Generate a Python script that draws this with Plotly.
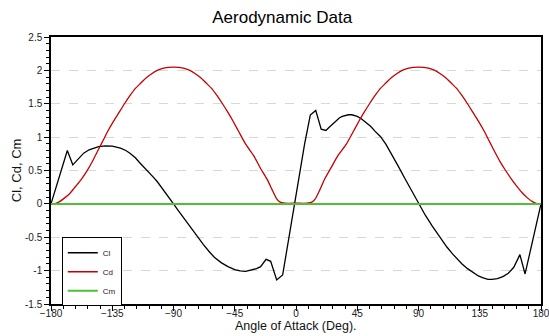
import plotly.graph_objects as go

# Angle of attack (deg) and coefficients
cl_alpha = [-180, -168, -164, -160, -156, -152, -149, -145, -140, -135, -129, -125, -122, -118, -115, -111, -108,
            -105, -102, -99, -96, -93, -90, -87, -84, -80, -76, -72, -68, -64, -60, -55, -50, -45, -41, -37,
            -33, -29, -26, -22, -18.6, -14.2, -9.8, -1, 6.3, 10.5, 14.5, 18.5,
            22, 24, 26, 28, 30, 32, 34, 36, 38.5, 41, 43, 45, 48, 51, 55, 58, 62, 66, 70, 75, 80, 85, 90,
            95, 100, 104, 107, 111, 115, 118, 122, 126, 130, 134, 137, 141, 144, 148, 152, 156, 160, 164.5, 168.3, 180]
cl_values = [0, 0.80, 0.585, 0.68, 0.76, 0.81, 0.835, 0.858, 0.87, 0.865, 0.835, 0.80, 0.76, 0.69, 0.62, 0.54, 0.47,
             0.405, 0.335, 0.255, 0.17, 0.085, 0, -0.085, -0.17, -0.29, -0.40, -0.51, -0.61, -0.71, -0.80, -0.88, -0.94, -0.985, -1.005, -1.01,
             -0.995, -0.97, -0.94, -0.83, -0.86, -1.14, -1.065, 0, 0.895, 1.33, 1.40, 1.12,
             1.10, 1.14, 1.18, 1.225, 1.26, 1.29, 1.31, 1.325, 1.335, 1.335, 1.325, 1.31, 1.275, 1.23, 1.16, 1.09, 1.01, 0.895, 0.76, 0.57, 0.38, 0.19, 0,
             -0.17, -0.33, -0.45, -0.54, -0.65, -0.75, -0.82, -0.90, -0.97, -1.03, -1.08, -1.105, -1.13, -1.13, -1.12, -1.09, -1.04, -0.95, -0.76, -1.05, 0]

cd_alpha = [-180, -177, -174, -170, -166, -162, -158, -154, -150, -146, -142, -138, -134, -130, -126, -122, -118,
            -114, -110, -106, -102, -98, -94, -90, -86, -82, -78, -74, -70, -66, -62, -58, -54, -50, -46, -42,
            -37, -31, -26, -21, -17.5, -14, -12, -8, 0, 8, 12, 14, 17.5, 21, 26, 31, 37,
            42, 46, 50, 54, 58, 62, 66, 70, 74, 78, 82, 86, 90, 94, 98, 102, 106, 110, 114, 118, 122,
            126, 130, 134, 138, 142, 146, 150, 154, 158, 162, 166, 170, 174, 177, 180]
cd_values = [0, 0.005, 0.03, 0.09, 0.16, 0.26, 0.36, 0.48, 0.62, 0.78, 0.94, 1.10, 1.24, 1.37, 1.50, 1.62, 1.73,
             1.81, 1.89, 1.95, 2.00, 2.03, 2.045, 2.05, 2.045, 2.03, 2.00, 1.95, 1.89, 1.81, 1.73, 1.62, 1.50, 1.37, 1.23, 1.08,
             0.895, 0.72, 0.53, 0.36, 0.21, 0.07, 0.03, 0.01, 0.01, 0.01, 0.03, 0.07, 0.21, 0.37, 0.55, 0.73, 0.895,
             1.08, 1.23, 1.37, 1.50, 1.62, 1.73, 1.81, 1.89, 1.95, 2.00, 2.03, 2.045, 2.05, 2.045, 2.03, 2.00, 1.95, 1.89, 1.81, 1.73, 1.62,
             1.50, 1.37, 1.24, 1.10, 0.94, 0.78, 0.63, 0.50, 0.38, 0.27, 0.17, 0.09, 0.03, 0.005, 0]

cm_alpha = [-180, 180]
cm_values = [0, 0]

x_ticks = [-180, -135, -90, -45, 0, 45, 90, 135, 180]
y_ticks = [-1.5, -1, -0.5, 0, 0.5, 1, 1.5, 2, 2.5]
y_ticklabels = ["-1.5", "-1", "-0.5", "0", "0.5", "1", "1.5", "2", "2.5"]

font = "Liberation Sans, Arial, sans-serif"

fig = go.Figure()
fig.add_trace(go.Scatter(x=cl_alpha, y=cl_values, mode="lines", name="Cl",
                         line=dict(color="black", width=1.3)))
fig.add_trace(go.Scatter(x=cd_alpha, y=cd_values, mode="lines", name="Cd",
                         line=dict(color="#c40000", width=1.3, shape="spline", smoothing=0.6)))
fig.add_trace(go.Scatter(x=cm_alpha, y=cm_values, mode="lines", name="Cm",
                         line=dict(color="#4fbf3a", width=2)))

fig.update_layout(
    width=549, height=336,
    margin=dict(l=51, r=8, t=37, b=32, autoexpand=False),
    paper_bgcolor="white", plot_bgcolor="white",
    font=dict(family=font, color="#222222", size=10),
    title=dict(text="Aerodynamic Data", x=0.514, xanchor="center", y=0.95, yanchor="middle",
               font=dict(size=17, color="black", family=font)),
    showlegend=True,
    legend=dict(x=0.022, y=0.25, xanchor="left", yanchor="top",
                bordercolor="black", borderwidth=1, bgcolor="white",
                font=dict(size=8, color="#222222"), tracegroupgap=0,
                itemwidth=30),
    annotations=[
        dict(text="Angle of Attack (Deg).", xref="paper", yref="paper", x=0.5, y=-0.082,
             xanchor="center", yanchor="middle", showarrow=False,
             font=dict(size=12.5, color="#111111", family=font)),
        dict(text="Cl, Cd, Cm", xref="paper", yref="paper", x=-0.07, y=0.5,
             xanchor="center", yanchor="middle", textangle=-90, showarrow=False,
             font=dict(size=13, color="#111111", family=font)),
    ],
)

fig.update_xaxes(
    range=[-180, 180], tickmode="array", tickvals=x_ticks, automargin=False,
    ticks="outside", ticklen=5, tickwidth=1, tickcolor="black", ticklabelstandoff=-6,
    ticklabeloverflow="allow",
    minor=dict(dtick=9, ticks="outside", ticklen=3, tickcolor="black", showgrid=False),
    showline=True, linecolor="black", linewidth=1.5, mirror=True,
    showgrid=False, zeroline=False,
    tickfont=dict(size=10, color="#222222"),
)
fig.update_yaxes(
    range=[-1.5, 2.5], tickmode="array", tickvals=y_ticks, ticktext=y_ticklabels, automargin=False,
    ticks="outside", ticklen=5, tickwidth=1, tickcolor="black", ticklabeloverflow="allow",
    minor=dict(dtick=0.1, ticks="outside", ticklen=3, tickcolor="black", showgrid=False),
    showline=True, linecolor="black", linewidth=1.5, mirror=True,
    showgrid=True, gridcolor="#d8d8d8", griddash="dash", gridwidth=1,
    zeroline=False,
    tickfont=dict(size=10, color="#222222"),
)

fig.write_html("out.html", config={"displayModeBar": False},
               post_script="document.body.style.margin='0';")
